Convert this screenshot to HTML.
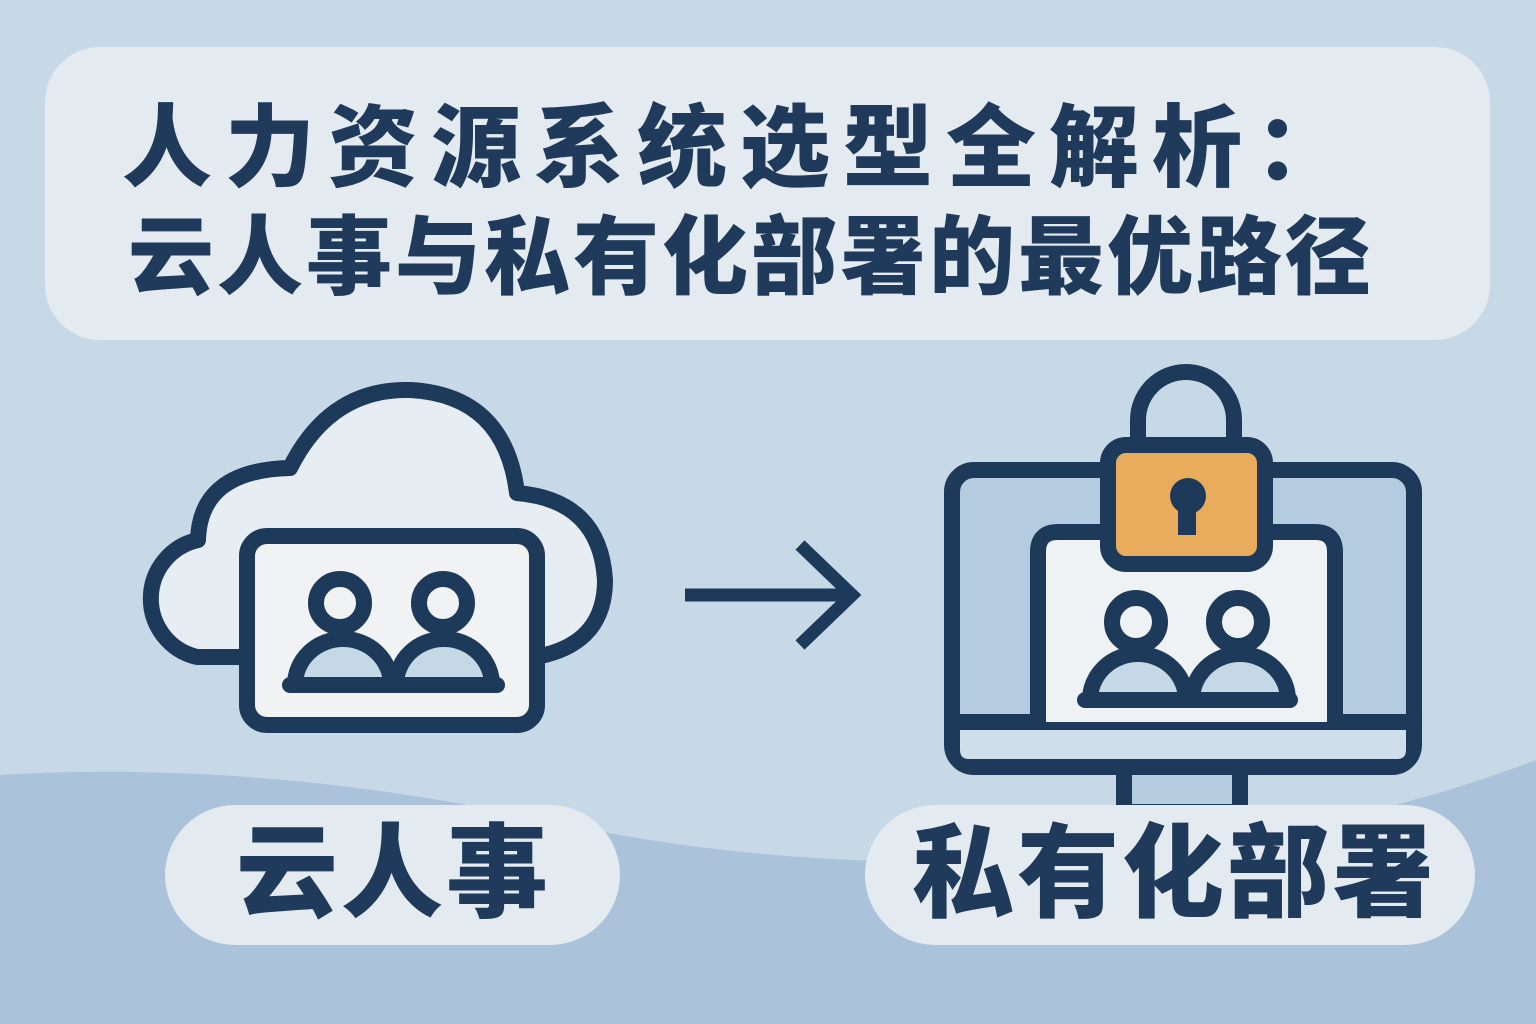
<!DOCTYPE html>
<html><head><meta charset="utf-8"><style>
html,body{margin:0;padding:0}
body{width:1536px;height:1024px;overflow:hidden;background:#c7d9e7;position:relative;font-family:"Liberation Sans","Noto Sans CJK SC",sans-serif}
.t{position:absolute;color:#1f3a5a;font-weight:900;white-space:nowrap;line-height:1}
</style></head><body>
<svg width="1536" height="1024" style="position:absolute;left:0;top:0">
<path d="M0 775 Q 250 760 520 815 Q 760 870 1000 860 Q 1300 850 1536 760 L1536 1024 L0 1024 Z" fill="#aac3da"/>
<rect x="45" y="47" width="1445" height="293" rx="55" fill="#e3eaf0"/>
<g fill="none" stroke="#1e3a5a" stroke-width="16" stroke-linejoin="round" stroke-linecap="round">
<path d="M248 657 L197 657 A60 60 0 0 1 198 540 Q 200 470 290 468 Q 330 388 410 390 Q 505 395 517 493 Q 600 500 605 580 Q 605 640 545 655" fill="#e6edf3"/>
<rect x="247" y="536" width="290" height="189" rx="20" fill="#f0f2f3"/>
<path d="M295 685 A48 46 0 0 1 391 685 Z" fill="#c5d8e6"/>
<path d="M396 685 A48 46 0 0 1 492 685 Z" fill="#c5d8e6"/>
<circle cx="340" cy="603" r="24" fill="#f0f2f3"/>
<circle cx="443" cy="603" r="24" fill="#f0f2f3"/>
<path d="M290 685 L497 685"/>
<path d="M685 595 L852 595 M800 545 L852 595 L800 645" stroke-linejoin="miter" stroke-linecap="butt" stroke-width="13"/>
<rect x="1124" y="767" width="116" height="45" fill="#b6cde0"/>
<rect x="952" y="470" width="462" height="297" rx="22" fill="#b5cce0"/>
<path d="M960 722 L1406 722 L1406 750 Q1406 759 1397 759 L969 759 Q960 759 960 750 Z" fill="#cfdeeb" stroke="none"/>
<path d="M952 722 L1414 722"/>
<path d="M1038 722 L1038 552 Q1038 532 1058 532 L1315 532 Q1335 532 1335 552 L1335 722" fill="#eff2f4"/>
<path d="M1090 700 A48 46 0 0 1 1186 700 Z" fill="#c5d8e6"/>
<path d="M1192 700 A48 46 0 0 1 1288 700 Z" fill="#c5d8e6"/>
<circle cx="1136" cy="622" r="24" fill="#eff2f4"/>
<circle cx="1238" cy="622" r="24" fill="#eff2f4"/>
<path d="M1085 700 L1290 700"/>
<path d="M1138 445 L1138 420 A48 48 0 0 1 1234 420 L1234 445"/>
<rect x="1108" y="445" width="157" height="119" rx="18" fill="#e8ac5c"/>
</g>
<circle cx="1188" cy="496" r="18" fill="#1e3a5a"/>
<rect x="1178" y="500" width="18" height="35" fill="#1e3a5a"/>
<rect x="165" y="805" width="455" height="140" rx="70" fill="#e3eaf0"/>
<rect x="865" y="805" width="610" height="140" rx="70" fill="#e3eaf0"/>
</svg>
<div class="t" style="left:122px;top:104px;font-size:90px;letter-spacing:13px">人力资源系统选型全解析：</div>
<div class="t" style="left:128px;top:215px;font-size:86px;letter-spacing:3px">云人事与私有化部署的最优路径</div>
<div class="t" style="left:236px;top:823px;font-size:102px;letter-spacing:3px">云人事</div>
<div class="t" style="left:912px;top:823px;font-size:102px;letter-spacing:3px">私有化部署</div>
</body></html>
